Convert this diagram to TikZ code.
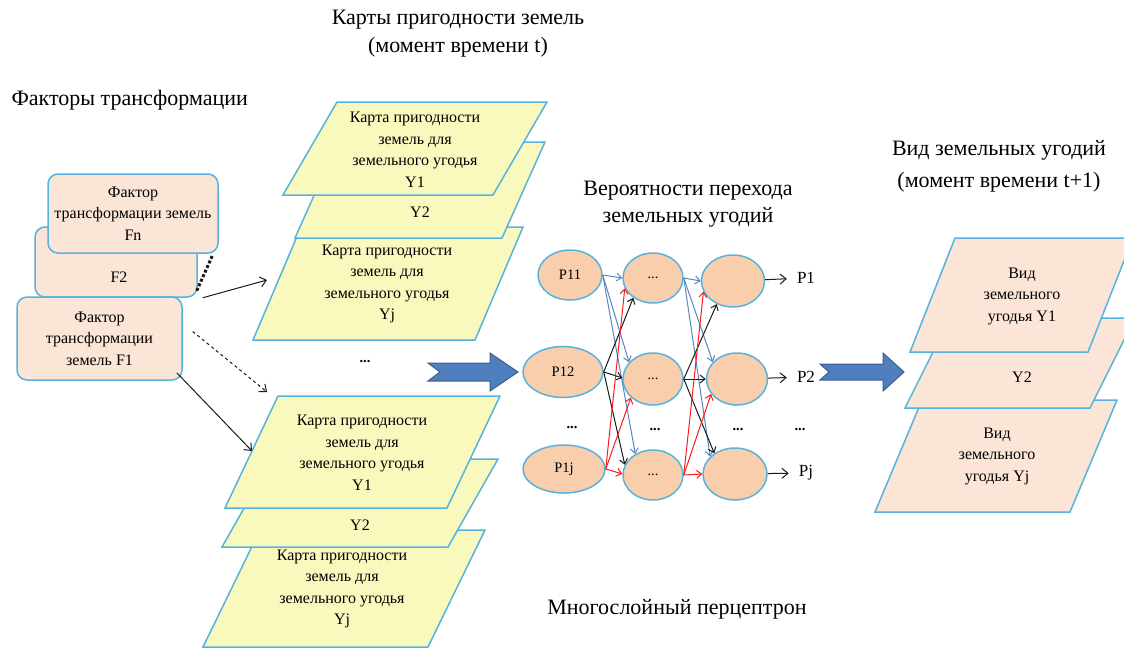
\documentclass[tikz,border=0pt]{standalone}
\usepackage{fontspec}
\setmainfont{Liberation Serif}
\usepackage{tikz}
\usetikzlibrary{positioning,shapes.geometric,arrows.meta,calc}
\definecolor{ink}     {HTML}{1A1A1A}
\definecolor{rim}     {HTML}{55B3DE}
\definecolor{peach}   {HTML}{FBE5D6}
\definecolor{lemon}   {HTML}{F9F9BE}
\definecolor{apricot} {HTML}{F8CEAC}
\definecolor{steel}   {HTML}{4F7FBE}
\definecolor{steeldk} {HTML}{3A5E8C}
\definecolor{wire}    {HTML}{5A85C2}
\definecolor{hot}     {HTML}{FF1A1A}
\tikzset{
  >={Straight Barb[length=6pt,width=10pt]},
  every node/.style={font=\fontsize{16}{21.5}\selectfont},
  % --- nodes
  title/.style   = {align=center, font=\fontsize{22}{28}\selectfont},
  factor/.style  = {draw=rim, fill=peach, rounded corners=10pt, line width=1.5pt,
                    align=center},
  card/.style    = {draw=rim, line width=1.5pt},
  cardtxt/.style = {align=center, inner sep=0pt},
  neuron/.style  = {ellipse, draw=rim, fill=apricot, line width=1.5pt, inner sep=0pt,
                    font=\fontsize{14.5}{16}\selectfont},
  outlbl/.style  = {font=\fontsize{17}{20}\selectfont, inner xsep=10pt},
  gap/.style     = {font=\bfseries\fontsize{14.5}{16}\selectfont},
  % --- edges
  e/.style       = {->, draw=ink, line width=1pt},
  ew/.style      = {-{Straight Barb[length=5pt,width=8pt]}, line width=1pt},
  eb/.style      = {ew, draw=wire},
  ek/.style      = {ew, draw=ink},
  er/.style      = {ew, draw=hot},
  bigarrow/.style= {fill=steel, draw=steeldk, line width=1pt},
}
\begin{document}
\begin{tikzpicture}[x=1pt,y=-1pt]
  \useasboundingbox (0,0) rectangle (1124,648);
  \clip (0,0) rectangle (1124,648);
  % titles
  \node[title] (ttlmaps) at (458,34) {Карты пригодности земель\\(момент времени t)};
  \node[title,anchor=west] (ttlfac) at (8,100) {Факторы трансформации};
  \node[title,font=\fontsize{22}{27}\selectfont] (ttlprob) at (688,204)
    {Вероятности перехода\\земельных угодий};
  \node[title,font=\fontsize{22}{32}\selectfont] (ttlkind) at (999,166)
    {Вид земельных угодий\\(момент времени t+1)};
  \node[title] (ttlmlp) at (677,609) {Многослойный перцептрон};

  % factor boxes
  \node[factor, minimum width=162pt, minimum height=70pt] (f2) at (116,262) {};
  \node (f2txt) at (119,277) {F2};
  \node[factor, minimum width=170pt, minimum height=79pt] (fn) at (133,213.5)
    {Фактор\\трансформации земель\\Fn};
  \node[factor, minimum width=165pt, minimum height=83pt] (f1) at (99.5,338.5)
    {Фактор\\трансформации\\земель F1};

  % cards: left x / bottom y / width / height / skew / fill
  \foreach \x/\yb/\w/\h/\s/\c in {
    253/340/222/113/48/lemon, 295/238/207/96/43/lemon, 283/195/210/93/54/lemon,
    203/647/225/117/57/lemon, 222/547/226/88/50/lemon, 225/508/222/112/53/lemon,
    875/512/195/112/47/peach, 905/408/185/90/45/peach, 910/352/178/114/45/peach}
  {
    \draw[card,fill=\c] (\x,\yb) -- ++(\w,0) -- ++(\s,-\h) -- ++(-\w,0) -- cycle;
  }
  \node[cardtxt] (t1) at (415,150) {Карта пригодности\\земель для\\земельного угодья\\Y1};
  \node[cardtxt] (t2) at (420,212) {Y2};
  \node[cardtxt] (tj) at (387,284) {Карта пригодности\\земель для\\земельного угодья\\Yj};
  \node[cardtxt] (b1) at (362,453) {Карта пригодности\\земель для\\земельного угодья\\Y1};
  \node[cardtxt] (b2) at (360,525) {Y2};
  \node[cardtxt] (bj) at (342,589) {Карта пригодности\\земель для\\земельного угодья\\Yj};
  \node[cardtxt] (r1) at (1022,296) {Вид\\земельного\\угодья Y1};
  \node[cardtxt] (r2) at (1022,377) {Y2};
  \node[cardtxt] (rj) at (997,456) {Вид\\земельного\\угодья Yj};
  \node[gap] (dotsmaps) at (365,362) {...};

  % factors -> cards
  \coordinate (tjin) at (267,280);
  \coordinate (bmid) at (267,392);
  \coordinate (b1in) at (252,451);
  \draw[e] ([xshift=5pt]f2.south east) -- (tjin);
  \draw[e,dashed] ([shift={(10,-7)}]f1.east) -- (bmid);
  \draw[e] ([shift={(-6,-8)}]f1.south east) -- (b1in);
  \draw[dotted,line width=3pt,draw=ink] ([shift={(-1,-7)}]f2.south east)
    -- ([shift={(-6,1)}]fn.south east);

  % block arrows
  \draw[bigarrow] (428,363) -- (490,363) -- (490,353) -- (518,372) -- (490,391)
    -- (490,381) -- (428,381) -- (440,372) -- cycle;
  \draw[bigarrow] (820,364) -- (883,364) -- (883,353) -- (904,372) -- (883,391)
    -- (883,380) -- (820,380) -- (829,372) -- cycle;

  % perceptron
  \node[neuron, minimum width=64pt, minimum height=50pt] (p11) at (570,275) {P11};
  \node[neuron, minimum width=80pt, minimum height=51pt] (p12) at (563,372) {P12};
  \node[neuron, minimum width=82pt, minimum height=48pt] (p1j) at (564,469) {P1j};
  \node[neuron, minimum width=60pt, minimum height=50pt] (h1) at (653,278) {...};
  \node[neuron, minimum width=60pt, minimum height=52pt] (h2) at (653,379) {...};
  \node[neuron, minimum width=60pt, minimum height=50pt] (hj) at (653,475) {...};
  \node[neuron, minimum width=63pt, minimum height=52pt] (o1) at (733,281) {};
  \node[neuron, minimum width=61pt, minimum height=52pt] (o2) at (737,379) {};
  \node[neuron, minimum width=64pt, minimum height=52pt] (oj) at (735,474) {};
  \node[outlbl] (lp1) at (806,278) {P1};
  \node[outlbl] (lp2) at (806,377) {P2};
  \node[outlbl] (lpj) at (806,473) {Pj};
  \node[gap] (dots1) at (572,428) {...};
  \node[gap] (dots2) at (655,430) {...};
  \node[gap] (dots3) at (738,430) {...};
  \node[gap] (dots4) at (800,430) {...};

  \foreach \t/\a in {h1/180,h2/145,hj/130} \draw[eb] (p11.east) -- (\t.\a);
  \foreach \t/\a in {h1/225,h2/178,hj/160} \draw[ek] (p12.east) -- (\t.\a);
  \foreach \t/\a in {h1/200,h2/220,hj/178} \draw[er] (p1j.east) -- (\t.\a);
  \foreach \t/\a in {o1/180,o2/145,oj/145} \draw[eb] (h1.east) -- (\t.\a);
  \foreach \t/\a in {o1/235,o2/180,oj/135} \draw[ek] (h2.east) -- (\t.\a);
  \foreach \t/\a in {o1/200,o2/210,oj/180} \draw[er] (hj.east) -- (\t.\a);
  \draw[e] (o1) -- (lp1);
  \draw[e] (o2) -- (lp2);
  \draw[e] (oj) -- (lpj);
\end{tikzpicture}
\end{document}
